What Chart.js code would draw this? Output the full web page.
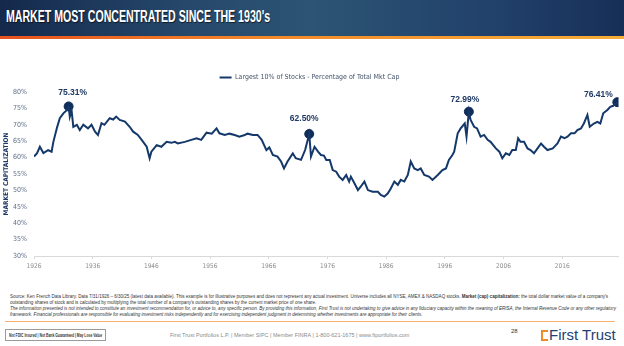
<!DOCTYPE html>
<html>
<head>
<meta charset="utf-8">
<script src="https://cdn.jsdelivr.net/npm/chart.js@4.4.1/dist/chart.umd.min.js"></script>
<style>
  body { margin: 0; width: 624px; height: 346px; overflow: hidden; background: #fff; position: relative; font-family: 'Liberation Sans', Arial, sans-serif; }
  #hdr { position: absolute; left: 0; top: 0; width: 624px; height: 36px;
         background: linear-gradient(90deg, #14294c 0%, #26486b 30%, #2c5474 50%, #21406a 80%, #172f57 100%); }
  #orange { position: absolute; left: 0; top: 36px; width: 624px; height: 3px;
            background: linear-gradient(90deg, #e8521f 0%, #f38a2b 45%, #f6ad37 100%); }
  #title { position: absolute; left: 6px; top: 8px; color: #fff; font: bold 16px 'Liberation Sans', Arial, sans-serif;
           text-shadow: 1px 1px 1px rgba(0,0,0,0.6); white-space: nowrap; transform-origin: 0 0; }
  #wrap { position: absolute; left: 0; top: 60px; width: 624px; height: 210px; }
  .src { position: absolute; left: 10px; white-space: nowrap; font: 8px 'Liberation Sans Narrow', 'Arial Narrow', sans-serif; color: #333; transform-origin: 0 0; }
  #rule { position: absolute; left: 5px; top: 321px; width: 610px; height: 1px; background: #f6b273; }
  #box { position: absolute; left: 5px; top: 329px; width: 101px; height: 12px; border: 1px solid #9a9a9a; box-sizing: border-box; overflow: hidden; }
  #boxtxt { position: absolute; left: 3px; top: 3px; font: bold 8px 'Liberation Sans Narrow', sans-serif; color: #333; white-space: nowrap; transform-origin: 0 0; }
  #mid { position: absolute; left: 170px; top: 332px; white-space: nowrap; font: 10px 'Liberation Sans Narrow', sans-serif; color: #8a8a8a; transform: scale(0.55); transform-origin: 0 0; }
  #pg { position: absolute; left: 511px; top: 328px; font: 6px 'Liberation Sans', sans-serif; color: #333; }
  #logo { position: absolute; left: 541px; top: 326px; font: 15px 'Liberation Sans Narrow', 'Liberation Sans', sans-serif; color: #1d4170; white-space: nowrap; }
  #logo i { display: inline-block; width: 7px; height: 11px; border-left: 2px solid #f08a24; border-bottom: 2px solid #f08a24; border-top: 2px solid #f08a24; margin-right: 1px; vertical-align: -1px; box-sizing: border-box; }
</style>
</head>
<body>
<div id="hdr"></div>
<div id="orange"></div>
<div id="title">MARKET MOST CONCENTRATED SINCE THE 1930's</div>
<div id="wrap"><canvas id="chart"></canvas></div>

<div class="src" id="s1" style="top:294px">Source: Ken French Data Library. Data 7/31/1926 – 6/30/25 (latest data available). This example is for illustrative purposes and does not represent any actual investment. Universe includes all NYSE, AMEX &amp; NASDAQ stocks. <b>Market (cap) capitalization:</b> the total dollar market value of a company's</div>
<div class="src" id="s2" style="top:299.5px">outstanding shares of stock and is calculated by multiplying the total number of a company's outstanding shares by the current market price of one share.</div>
<div class="src" id="s3" style="top:306px"><i>The information presented is not intended to constitute an investment recommendation for, or advice to, any specific person. By providing this information, First Trust is not undertaking to give advice in any fiduciary capacity within the meaning of ERISA, the Internal Revenue Code or any other regulatory</i></div>
<div class="src" id="s4" style="top:311.5px"><i>framework. Financial professionals are responsible for evaluating investment risks independently and for exercising independent judgment in determining whether investments are appropriate for their clients.</i></div>
<div id="rule"></div>
<div id="box"><div id="boxtxt">Not FDIC Insured | Not Bank Guaranteed | May Lose Value</div></div>
<div id="mid">First Trust Portfolios L.P. | Member SIPC | Member FINRA | 1-800-621-1675 | www.ftportfolios.com</div>
<div id="pg">28</div>
<div id="logo"><i></i>First Trust</div>

<script>
// largest 10% of stocks, share of total market cap (%)
const years = [
  1926.0, 1926.5, 1927.0, 1927.6, 1928.4, 1929.0, 1929.3, 1929.9, 1930.4, 1931.0,
  1931.5, 1931.9, 1932.1, 1932.4, 1932.7, 1933.3, 1933.8, 1934.4, 1935.2, 1935.8,
  1936.4, 1936.9, 1937.5, 1938.0, 1938.9, 1939.5, 1940.0, 1940.6, 1941.5, 1942.3,
  1942.9, 1943.7, 1944.6, 1945.2, 1945.7, 1946.0, 1946.9, 1947.7, 1948.6, 1949.4,
  1950.0, 1950.5, 1951.7, 1952.8, 1953.7, 1954.5, 1955.4, 1956.3, 1957.1, 1957.6,
  1958.5, 1959.3, 1960.2, 1961.0, 1961.9, 1962.4, 1963.3, 1964.1, 1964.8, 1965.6,
  1966.1, 1966.7, 1967.5, 1968.1, 1968.6, 1969.2, 1970.1, 1970.6, 1971.5, 1972.2,
  1972.9, 1973.2, 1973.8, 1974.4, 1974.9, 1975.4, 1975.8, 1976.4, 1976.9, 1977.5,
  1978.0, 1978.6, 1979.2, 1979.7, 1980.0, 1980.6, 1981.2, 1981.7, 1982.3, 1982.9,
  1983.7, 1984.6, 1985.1, 1985.7, 1986.3, 1986.8, 1987.4, 1988.0, 1988.5, 1989.1,
  1989.7, 1990.2, 1990.8, 1991.4, 1991.9, 1992.5, 1993.3, 1993.9, 1994.8, 1995.6,
  1996.2, 1996.7, 1997.3, 1997.6, 1998.2, 1998.7, 1999.4, 1999.7, 2000.1, 2000.4,
  2001.0, 2001.5, 2002.1, 2002.7, 2003.3, 2003.8, 2004.7, 2005.3, 2005.8, 2006.4,
  2007.0, 2007.5, 2008.1, 2008.5, 2008.9, 2009.5, 2010.1, 2010.6, 2011.2, 2011.8,
  2012.4, 2012.9, 2013.5, 2014.4, 2015.2, 2015.8, 2016.4, 2016.9, 2017.5, 2018.1,
  2018.6, 2019.2, 2019.7, 2020.3, 2020.7, 2021.4, 2022.0, 2022.5, 2023.0, 2023.7,
  2024.2, 2024.7, 2025.4
];
const shares = [
  60.3, 61.3, 63.3, 61.4, 62.3, 61.8, 64.8, 69.0, 72.0, 73.5,
  74.3, 75.6, 72.5, 74.5, 69.4, 70.0, 68.4, 70.0, 68.9, 70.0,
  67.9, 66.9, 70.5, 70.0, 72.0, 71.6, 72.5, 71.5, 71.0, 69.4,
  67.9, 66.9, 64.8, 63.3, 59.8, 61.8, 63.8, 63.3, 64.8, 64.5,
  64.8, 64.3, 64.8, 65.4, 65.9, 65.4, 67.6, 67.3, 68.9, 67.4,
  66.9, 67.3, 66.9, 66.4, 66.9, 67.3, 66.9, 66.9, 65.4, 62.3,
  63.1, 60.8, 60.3, 58.8, 56.7, 58.8, 61.3, 59.8, 59.3, 62.3,
  67.2, 60.3, 63.3, 61.8, 60.8, 60.6, 59.3, 59.3, 56.2, 55.7,
  54.2, 53.2, 54.7, 52.7, 54.2, 52.2, 50.1, 51.2, 52.7, 50.1,
  49.6, 49.6, 48.6, 48.1, 49.1, 50.6, 52.7, 51.7, 53.2, 52.7,
  54.7, 58.8, 56.7, 56.2, 56.7, 54.7, 54.2, 53.2, 54.7, 56.2,
  56.7, 59.3, 60.8, 61.8, 67.4, 68.9, 70.4, 66.4, 74.0, 71.5,
  69.4, 68.9, 66.4, 66.9, 65.4, 64.8, 62.8, 61.8, 59.8, 61.3,
  60.8, 62.3, 62.3, 65.9, 64.8, 64.8, 62.8, 62.3, 61.3, 62.8,
  64.3, 63.3, 62.3, 62.8, 64.3, 66.4, 65.9, 66.4, 67.4, 67.4,
  68.4, 68.9, 70.4, 73.0, 69.4, 70.4, 70.9, 70.4, 73.5, 74.5,
  75.5, 75.8, 76.9
];
const seriesName = 'Largest 10% of Stocks - Percentage of Total Mkt Cap';

// highlighted peaks and the labels printed next to them
const peakYears = [1931.9, 1972.9, 2000.1, 2025.4];
const peakValues = [75.6, 67.2, 74.0, 76.9];
const peakLabels = ['75.31%', '62.50%', '72.99%', '76.41%'];

const xTicks = [1926, 1936, 1946, 1956, 1966, 1976, 1986, 1996, 2006, 2016];
const yTicks = [30, 35, 40, 45, 50, 55, 60, 65, 70, 75, 80];

const NARROW = "'Liberation Sans Narrow', 'Arial Narrow', 'DejaVu Sans Condensed', sans-serif";
const NAVY = '#14386a';

// squeeze a text block horizontally to a target width
function fitWidth(id, target, sy) {
  const el = document.getElementById(id);
  const k = target / el.scrollWidth;
  el.style.transform = 'scale(' + k + ',' + (sy || 1) + ')';
  return k;
}
fitWidth('title', 264, 1);
const k = 598 / document.getElementById('s1').scrollWidth;
['s1', 's2', 's3', 's4'].forEach(id => {
  document.getElementById(id).style.transform = 'scale(' + k + ',0.6)';
});
fitWidth('boxtxt', 93, 0.6);

const labelOffsets = [[4, -14], [-5, -15], [-4, -12], [-19, -8]];

const peakLabelPlugin = {
  id: 'peakLabels',
  beforeInit(chart) {
    const orig = chart.legend.fit;
    chart.legend.fit = function () {
      orig.call(this);
      this.height = 32;
    };
  },
  afterDatasetsDraw(chart) {
    const ctx = chart.ctx;
    const meta = chart.getDatasetMeta(1);
    ctx.save();
    ctx.font = "bold 8.5px 'Liberation Sans', Arial, sans-serif";
    ctx.fillStyle = '#1f3864';
    ctx.textAlign = 'center';
    ctx.textBaseline = 'middle';
    meta.data.forEach((pt, i) => {
      ctx.fillText(peakLabels[i], pt.x + labelOffsets[i][0], pt.y + labelOffsets[i][1]);
    });
    ctx.restore();
  }
};

new Chart(document.getElementById('chart'), {
  type: 'line',
  data: {
    datasets: [
      {
        label: seriesName,
        data: years.map((x, i) => ({ x: x, y: shares[i] })),
        borderColor: NAVY,
        backgroundColor: NAVY,
        borderWidth: 2,
        pointRadius: 0,
        tension: 0
      },
      {
        type: 'scatter',
        label: 'peaks',
        data: peakYears.map((x, i) => ({ x: x, y: peakValues[i] })),
        backgroundColor: '#0f2d57',
        borderColor: '#0f2d57',
        pointRadius: 4.5,
        pointHoverRadius: 4.5
      }
    ]
  },
  options: {
    responsive: true,
    maintainAspectRatio: false,
    animation: false,
    events: [],
    layout: { padding: { left: 0, right: 5, top: 0, bottom: 0 } },
    plugins: {
      tooltip: { enabled: false },
      legend: {
        position: 'top',
        labels: {
          filter: item => item.datasetIndex === 0,
          usePointStyle: true,
          pointStyle: 'line',
          pointStyleWidth: 12,
          boxHeight: 6,
          padding: 14,
          color: '#44546a',
          font: { family: NARROW, size: 7 }
        }
      }
    },
    scales: {
      x: {
        type: 'linear',
        min: 1926,
        max: 2025.6,
        afterBuildTicks: axis => { axis.ticks = xTicks.map(v => ({ value: v })); },
        afterFit: axis => { axis.height = 14; },
        ticks: {
          callback: v => String(v),
          color: '#8c8c8c',
          font: { family: NARROW, size: 6.5 },
          padding: 3,
          maxRotation: 0
        },
        grid: { drawOnChartArea: false, drawTicks: true, tickLength: 3, color: '#d9d9d9' },
        border: { color: '#d9d9d9' }
      },
      y: {
        min: 30,
        max: 80,
        afterBuildTicks: axis => { axis.ticks = yTicks.map(v => ({ value: v })); },
        afterFit: axis => { axis.width = 34; },
        ticks: {
          callback: v => v + '%',
          color: '#5f6f88',
          font: { family: NARROW, size: 7 },
          padding: 7
        },
        grid: { display: false, drawTicks: false },
        border: { display: false },
        title: {
          display: true,
          text: 'MARKET CAPITALIZATION',
          color: '#1f3864',
          font: { family: NARROW, size: 6.5, weight: 'bold' },
          padding: { top: 2, bottom: 0 }
        }
      }
    }
  },
  plugins: [peakLabelPlugin]
});
</script>
</body>
</html>
